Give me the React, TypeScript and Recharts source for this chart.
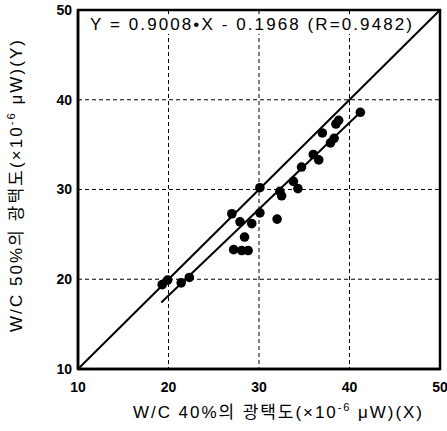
import { ScatterChart, Scatter, XAxis, YAxis, CartesianGrid, ReferenceLine, ReferenceArea } from 'recharts';

// measured points (W/C 40% vs W/C 50%)
const xValues = [19.3, 19.9, 21.4, 22.3, 27.0, 27.9, 29.2, 30.1, 28.4, 27.2, 28.1, 28.8, 32.0, 30.1, 32.3, 32.5, 34.3, 33.8, 34.7, 36.0, 36.6, 37.0, 37.9, 38.3, 38.5, 38.8, 41.2];
const yValues = [19.4, 19.9, 19.6, 20.2, 27.3, 26.4, 26.2, 27.4, 24.7, 23.3, 23.2, 23.2, 26.7, 30.2, 29.8, 29.3, 30.1, 30.9, 32.5, 33.9, 33.3, 36.3, 35.2, 35.7, 37.3, 37.7, 38.6];

const axisTicks = [10, 20, 30, 40, 50];
// 1:1 line and fitted line end points
const identityLine = [{ x: 10, y: 10 }, { x: 50, y: 50 }];
const fitLine = [{ x: 19.2, y: 17.4 }, { x: 41.2, y: 38.6 }];

const equationText = 'Y = 0.9008\u2022X - 0.1968 (R=0.9482)';

const points = xValues.map((x, i) => ({ x, y: yValues[i] }));

const FONT = '"Liberation Sans", Arial, "Noto Sans CJK KR", sans-serif';
const KFONT = '"Liberation Sans", "Noto Sans CJK KR", sans-serif';

const tickStyle = { fontSize: 14, fontWeight: 700, fill: '#000', fontFamily: FONT };

export default function App() {
  return (
    <div style={{ position: 'absolute', left: 0, top: 0, width: 447, height: 431, background: '#fff' }}>
      <ScatterChart width={447} height={431} margin={{ top: 10, right: 7, bottom: 32, left: 38 }}>
        <CartesianGrid stroke="#000" strokeDasharray="4 3" strokeWidth={1} />
        <XAxis
          type="number"
          dataKey="x"
          domain={[10, 50]}
          ticks={axisTicks}
          height={30}
          tickSize={0}
          tickMargin={13}
          tick={tickStyle}
          axisLine={{ stroke: '#000', strokeWidth: 2.5 }}
          tickLine={false}
        />
        <YAxis
          type="number"
          dataKey="y"
          domain={[10, 50]}
          ticks={axisTicks}
          width={40}
          tickSize={0}
          tickMargin={6}
          tick={tickStyle}
          axisLine={{ stroke: '#000', strokeWidth: 2.5 }}
          tickLine={false}
        />
        <ReferenceArea x1={10} x2={50} y1={10} y2={50} fill="none" stroke="#000" strokeWidth={2.5} />
        <ReferenceLine segment={identityLine} stroke="#000" strokeWidth={2} />
        <ReferenceLine segment={fitLine} stroke="#000" strokeWidth={2} />
        <Scatter
          data={points}
          isAnimationActive={false}
          shape={(p: any) => <circle cx={p.cx} cy={p.cy} r={4.8} fill="#000" />}
        />
      </ScatterChart>

      {/* titles + equation on top */}
      <svg width={447} height={431} style={{ position: 'absolute', left: 0, top: 0, pointerEvents: 'none' }}>
        <rect x={86} y={14} width={328} height={20} fill="#fff" />
        <text x={90} y={30} fontSize={17} fontFamily={FONT} fill="#000" textLength={322} lengthAdjust="spacing">
          {equationText}
        </text>
        <text x={133} y={418} fontSize={17} fontFamily={KFONT} fill="#000" textLength={289} lengthAdjust="spacing">
          W/C 40%의 광택도(×10<tspan dy={-7} fontSize={11}>-6</tspan><tspan dy={7}> μW)(X)</tspan>
        </text>
        <text
          transform="translate(22 332) rotate(-90)"
          x={0}
          y={0}
          fontSize={17}
          fontFamily={KFONT}
          fill="#000"
          textLength={292}
          lengthAdjust="spacing"
        >
          W/C 50%의 광택도(×10<tspan dy={-7} fontSize={11}>-6</tspan><tspan dy={7}> μW)(Y)</tspan>
        </text>
      </svg>
    </div>
  );
}
